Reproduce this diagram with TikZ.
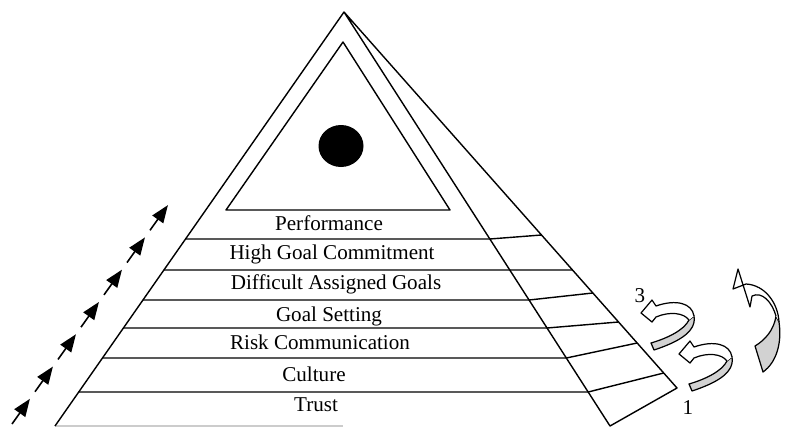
\documentclass[tikz,border=0pt]{standalone}
\usepackage{fontspec}
\setmainfont{Liberation Serif}
\usetikzlibrary{arrows.meta,calc}

\begin{document}
\begin{tikzpicture}[x=0.02cm, y=-0.02cm, line width=0.8pt, line join=round,
  ribbon/.style={draw, fill=gray!35, line width=0.7pt},
  front/.style={draw, fill=white, line width=0.7pt},
  up/.style={-{Triangle[length=10pt, width=7.5pt]}, line width=0.9pt}]
\useasboundingbox (0,0) rectangle (793,426);
\tikzstyle{every node}=[font=\fontsize{12}{14}\selectfont, inner sep=0pt]
\coordinate (top) at (344,12);
\coordinate (lb) at (55,426);
\coordinate (rb) at (610,426);
\coordinate (sb) at (677,388);
\draw[black!20] (lb) -- (343,426);
\draw (lb) -- (top) -- (rb) -- (sb) -- (top);
\draw (343,42) -- (226,210) -- (450,210) -- cycle;
\fill (341,146) ellipse (22.5 and 21);
\foreach \y/\s in {239/235, 270/270, 300/293, 328/322, 358/343, 392/373}
  \draw ($(top)!{(\y-12)/414}!(lb)$) -- ($(top)!{(\y-12)/414}!(rb)$) -- ($(top)!{(\s-12)/376}!(sb)$);

\node[anchor=base] (b0) at (329,230) {Performance};
\node[anchor=base] (b1) at (332,259) {High Goal Commitment};
\node[anchor=base] (b2) at (336,289) {Difficult Assigned Goals};
\node[anchor=base] (b3) at (329,321) {Goal Setting};
\node[anchor=base] (b4) at (320,349) {Risk Communication};
\node[anchor=base] (b5) at (314,381) {Culture};
\node[anchor=base] (b6) at (316,411) {Trust};
\node (n3) at (640,296) {3};
\node (n1) at (688,408) {1};

\coordinate (a0) at (12,424);
\coordinate (a1) at (173,198);
\foreach \i in {0,...,6}
  \draw[up] ($(a0)!{\i/7}!(a1)$) -- ($(a0)!{(\i+0.78)/7}!(a1)$);

\foreach \dx/\dy in {0/0, 38/41} {
  \begin{scope}[shift={(\dx,\dy)}]
    \draw[ribbon] (654,350) .. controls (675,343) and (697,333) .. (694,316) -- (689,320) .. controls (684,330) and (668,338) .. (651,343) -- cycle;
    \draw[front] (694,316) .. controls (692,303) and (676,299) .. (656,306) -- (652,300) -- (641,313) -- (652,322) -- (656,317) .. controls (670,311) and (684,313) .. (689,320);
  \end{scope}
}
\draw[ribbon] (763,372) .. controls (777,362) and (782,342) .. (779,322) -- (776,316) .. controls (774,330) and (765,340) .. (755,346) -- cycle;
\draw[front] (779,322) .. controls (778,303) and (765,285) .. (746,284) -- (733,289) -- (738,269) -- (750,307) -- (752,296) .. controls (762,291) and (772,302) .. (776,316);
\end{tikzpicture}
\end{document}
